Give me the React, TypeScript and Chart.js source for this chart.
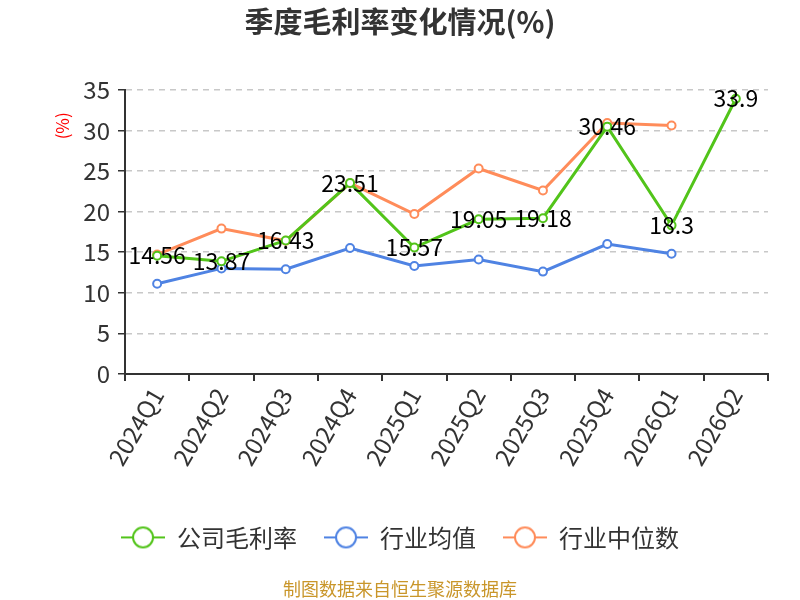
import React, { useEffect, useRef } from 'react';
import { Chart, registerables } from 'chart.js';

Chart.register(...registerables);

const FONT = "'Noto Sans CJK SC', 'Noto Sans', sans-serif";

const quarters = ['2024Q1', '2024Q2', '2024Q3', '2024Q4', '2025Q1', '2025Q2', '2025Q3', '2025Q4', '2026Q1', '2026Q2'];
const companyMargin = [14.56, 13.87, 16.43, 23.51, 15.57, 19.05, 19.18, 30.46, 18.3, 33.9];
const industryAverage = [11.1, 13.0, 12.9, 15.5, 13.3, 14.1, 12.6, 16.0, 14.8, null];
const industryMedian = [14.7, 17.9, 16.4, 23.5, 19.7, 25.3, 22.6, 30.9, 30.6, null];

const seriesNames = ['公司毛利率', '行业均值', '行业中位数'];
const seriesColors = ['#52c41a', '#4f83e3', '#ff8c5a'];

// legend marker: short line with a hollow circle on it
function legendIcon(color: string) {
    const c = document.createElement('canvas');
    c.width = 44;
    c.height = 24;
    const g = c.getContext('2d')!;
    g.strokeStyle = color;
    g.lineWidth = 2;
    g.beginPath();
    g.moveTo(0, 12);
    g.lineTo(44, 12);
    g.stroke();
    g.beginPath();
    g.arc(22, 12, 10, 0, Math.PI * 2);
    g.fillStyle = '#fff';
    g.fill();
    g.stroke();
    return c;
}

const valueLabels = {
    id: 'valueLabels',
    afterDatasetsDraw(chart: Chart) {
        const ctx = chart.ctx;
        const meta = chart.getDatasetMeta(0);
        ctx.save();
        ctx.font = `23px ${FONT}`;
        ctx.fillStyle = '#000';
        ctx.textAlign = 'center';
        ctx.textBaseline = 'middle';
        meta.data.forEach((pt, i) => {
            const v = companyMargin[i];
            if (v == null) return;
            ctx.fillText(String(v), pt.x, pt.y);
        });
        ctx.restore();
    },
};

const unitLabel = {
    id: 'unitLabel',
    afterDraw(chart: Chart) {
        const { ctx, chartArea } = chart;
        ctx.save();
        ctx.translate(chartArea.left - 62, chartArea.top + 36);
        ctx.rotate(-Math.PI / 2);
        ctx.font = `17px ${FONT}`;
        ctx.fillStyle = '#ff0000';
        ctx.textAlign = 'center';
        ctx.textBaseline = 'middle';
        ctx.fillText('(%)', 0, 0);
        ctx.restore();
    },
};

const App: React.FC = () => {
    const chartRef = useRef<HTMLCanvasElement>(null);
    const chartInstance = useRef<Chart | null>(null);

    useEffect(() => {
        if (!chartRef.current) return;
        const ctx = chartRef.current.getContext('2d');
        if (!ctx) return;
        if (chartInstance.current) chartInstance.current.destroy();

        const allData = [companyMargin, industryAverage, industryMedian];

        chartInstance.current = new Chart(ctx, {
            type: 'line',
            data: {
                labels: quarters,
                datasets: allData.map((d, i) => ({
                    label: seriesNames[i],
                    data: d,
                    borderColor: seriesColors[i],
                    backgroundColor: seriesColors[i],
                    borderWidth: 3,
                    pointRadius: 4,
                    pointBorderWidth: 2,
                    pointBackgroundColor: '#fff',
                    pointBorderColor: seriesColors[i],
                    tension: 0,
                    spanGaps: false,
                })),
            },
            options: {
                responsive: true,
                maintainAspectRatio: false,
                animation: false,
                layout: { padding: 0 },
                scales: {
                    x: {
                        offset: true,
                        grid: {
                            display: true,
                            offset: true,
                            drawOnChartArea: false,
                            color: '#333',
                            tickLength: 7,
                            lineWidth: 2,
                        },
                        border: { color: '#333', width: 2 },
                        ticks: {
                            color: '#333',
                            minRotation: 60,
                            maxRotation: 60,
                            autoSkip: false,
                            padding: 2,
                            font: { family: FONT, size: 24 },
                        },
                        afterFit: (s: any) => {
                            s.height += 26;
                        },
                    },
                    y: {
                        min: 0,
                        max: 35,
                        grid: {
                            color: '#c8c8c8',
                            lineWidth: 1.5,
                            tickColor: '#333',
                            tickLength: 7,
                            tickBorderDash: [],
                        },
                        border: { color: '#333', width: 2, dash: [6, 5] },
                        ticks: {
                            stepSize: 5,
                            color: '#333',
                            padding: 8,
                            font: { family: FONT, size: 24 },
                        },
                        afterFit: (s: any) => {
                            s.width = 125;
                        },
                    },
                    // empty right-hand axis that only holds the right margin
                    yRight: {
                        position: 'right',
                        display: true,
                        grid: { display: false },
                        border: { display: false },
                        ticks: { display: false },
                        afterFit: (s: any) => {
                            s.width = 32;
                        },
                    },
                },
                plugins: {
                    title: {
                        display: true,
                        text: '季度毛利率变化情况(%)',
                        color: '#333',
                        font: { family: FONT, size: 29, weight: 'bold' },
                        padding: { top: 5, bottom: 50 },
                    },
                    subtitle: {
                        display: true,
                        position: 'bottom',
                        text: '制图数据来自恒生聚源数据库',
                        color: '#c9962a',
                        font: { family: FONT, size: 18 },
                        padding: { top: 19, bottom: 0 },
                    },
                    legend: {
                        position: 'bottom',
                        labels: {
                            color: '#333',
                            font: { family: FONT, size: 24 },
                            usePointStyle: true,
                            pointStyleWidth: 44,
                            padding: 27,
                            generateLabels: (chart) =>
                                chart.data.datasets.map((ds, i) => ({
                                    text: ds.label as string,
                                    pointStyle: legendIcon(seriesColors[i]),
                                    fontColor: '#333',
                                    datasetIndex: i,
                                    hidden: false,
                                    lineWidth: 0,
                                })),
                        },
                    },
                    tooltip: { enabled: false },
                },
            },
            plugins: [valueLabels, unitLabel],
        });

        return () => {
            if (chartInstance.current) {
                chartInstance.current.destroy();
                chartInstance.current = null;
            }
        };
    }, []);

    return (
        <div style={{ position: 'fixed', left: 0, top: 0, width: '800px', height: '600px', background: '#fff' }}>
            <canvas ref={chartRef}></canvas>
        </div>
    );
};

export default App;
